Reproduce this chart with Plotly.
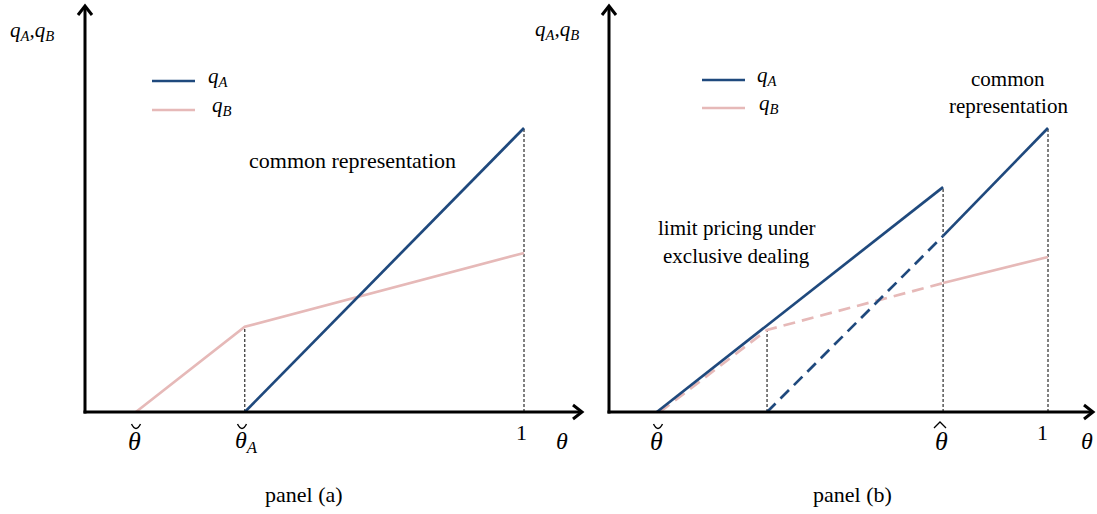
import plotly.graph_objects as go

# ---------------- data ----------------
# panel (a): common representation
theta_breve_a = 0.116
theta_breve_A = 0.364
qA_a_x = [0.364, 1.0]
qA_a_y = [0.0, 1.0]
qB_a_x = [0.116, 0.364, 1.0]
qB_a_y = [0.0, 0.30, 0.56]

# panel (b)
theta_breve_b = 0.109
theta_hat = 0.761
qA_excl_x = [0.109, 0.761]
qA_excl_y = [0.0, 0.792]
qA_comm_x = [0.761, 1.0]
qA_comm_y = [0.62, 1.0]
qA_dash_x = [0.36, 0.761]
qA_dash_y = [0.0, 0.62]
qB_dash_x = [0.116, 0.36, 0.761]
qB_dash_y = [0.0, 0.289, 0.454]
qB_solid_x = [0.761, 1.0]
qB_solid_y = [0.454, 0.546]

BLUE = "#1f497d"
PINK = "#e6b9b8"
FONT = "Liberation Serif"
W, H = 1097, 514

fig = go.Figure()

def line(x, y, color, dash="solid", xa="x", ya="y", width=2.7):
    fig.add_trace(go.Scatter(x=x, y=y, mode="lines", xaxis=xa, yaxis=ya,
                             line=dict(color=color, width=width, dash=dash),
                             showlegend=False, hoverinfo="skip"))

def vguide(xv, ytop, xa="x", ya="y"):
    line([xv, xv], [0, ytop], "black", dash="3px,2px", xa=xa, ya=ya, width=1)

# panel (a)
vguide(theta_breve_A, qB_a_y[1])
vguide(1.0, qA_a_y[1])
line(qB_a_x, qB_a_y, PINK)
line(qA_a_x, qA_a_y, BLUE)

# panel (b)
vguide(qB_dash_x[1], qB_dash_y[1], "x2", "y2")
vguide(theta_hat, qA_excl_y[1], "x2", "y2")
vguide(1.0, qA_comm_y[1], "x2", "y2")
line(qB_dash_x, qB_dash_y, PINK, "12px,7px", "x2", "y2")
line(qB_solid_x, qB_solid_y, PINK, "solid", "x2", "y2")
line(qA_dash_x, qA_dash_y, BLUE, "12px,7px", "x2", "y2")
line(qA_excl_x, qA_excl_y, BLUE, "solid", "x2", "y2")
line(qA_comm_x, qA_comm_y, BLUE, "solid", "x2", "y2")

# axes geometry (pixel mapping)
SX = 439.0  # px per theta unit
SY = 284.0  # px per q unit
y0px = 412.0
split = 600.0
ax_a0, ax_b0 = 85.0, 609.0
yr = [-(H - y0px) / SY, y0px / SY]
xr_a = [(0 - ax_a0) / SX, (split - ax_a0) / SX]
xr_b = [(split - ax_b0) / SX, (W - ax_b0) / SX]

hidden = dict(visible=False, showgrid=False, zeroline=False, fixedrange=True)
fig.update_layout(
    width=W, height=H, margin=dict(l=0, r=0, t=0, b=0),
    plot_bgcolor="white", paper_bgcolor="white",
    xaxis=dict(domain=[0, split / W], range=xr_a, anchor="y", **hidden),
    yaxis=dict(domain=[0, 1], range=yr, anchor="x", **hidden),
    xaxis2=dict(domain=[split / W, 1], range=xr_b, anchor="y2", **hidden),
    yaxis2=dict(domain=[0, 1], range=yr, anchor="x2", **hidden),
    showlegend=False,
)

shapes = []
AW = 3  # axis line width
def axis_arrows(xa, ya, x_tip_px, x0_px):
    top = (y0px - 6) / SY
    right = (x_tip_px - x0_px) / SX
    lc = dict(color="black", width=AW)
    shapes.append(dict(type="line", xref=xa, yref=ya, x0=0, x1=0, y0=-1.5 / SY, y1=top, line=lc))
    shapes.append(dict(type="line", xref=xa, yref=ya, x0=-1.5 / SX, x1=right, y0=0, y1=0, line=lc))
    dx, dy = 7.0, 9.0
    shapes.append(dict(type="path", xref=xa, yref=ya, line=lc,
                       path=f"M {-dx / SX} {top - dy / SY} L 0 {top} L {dx / SX} {top - dy / SY}"))
    shapes.append(dict(type="path", xref=xa, yref=ya, line=lc,
                       path=f"M {right - dy / SX} {dx / SY} L {right} 0 L {right - dy / SX} {-dx / SY}"))

axis_arrows("x", "y", 582, ax_a0)
axis_arrows("x2", "y2", 1093, ax_b0)

ann = []
def txt(px, py, s, size=22, anchor="center", family=FONT):
    ann.append(dict(xref="paper", yref="paper", x=px / W, y=1 - py / H, text=s,
                    showarrow=False, xanchor=anchor, yanchor="middle",
                    font=dict(family=family, size=size, color="black")))

def P(x, y):
    return f"{x / W:.5f} {1 - y / H:.5f}"

def breve(cx, ytop=424):
    shapes.append(dict(type="path", xref="paper", yref="paper",
                       line=dict(color="black", width=1.4),
                       path=f"M {P(cx - 4.5, ytop)} Q {P(cx, ytop + 9)} {P(cx + 4.5, ytop)}"))

def hat(cx, ytop=422):
    shapes.append(dict(type="path", xref="paper", yref="paper",
                       line=dict(color="black", width=1.3),
                       path=f"M {P(cx - 6, ytop + 6)} L {P(cx, ytop)} L {P(cx + 6, ytop + 6)}"))

qAqB = "<i>q<sub>A</sub>,q<sub>B</sub></i>"
txt(32, 31, qAqB, 21)
txt(557, 30, qAqB, 21)

txt(134, 441, "<i>θ</i>", 26)
breve(136)
txt(246, 442, "<i>θ<sub>A</sub></i>", 24)
breve(242)
txt(521, 432, "1", 22)
txt(562, 441, "<i>θ</i>", 24)
txt(656, 441, "<i>θ</i>", 26)
breve(658)
txt(941, 441, "<i>θ</i>", 26)
hat(940)
txt(1042, 432, "1", 22)
txt(1087, 441, "<i>θ</i>", 24)

txt(304, 494, "panel (a)", 22)
txt(852, 494, "panel (b)", 22)

txt(352, 160, "common representation", 22)
txt(1008, 79, "common", 21)
txt(1008, 106, "representation", 21)
txt(736, 228, "limit pricing under", 21)
txt(736, 256, "exclusive dealing", 21)

# legends (manual)
def leg(x0, x1, py, color, label, lx):
    shapes.append(dict(type="line", xref="paper", yref="paper", x0=x0 / W, x1=x1 / W,
                       y0=1 - py / H, y1=1 - py / H, line=dict(color=color, width=2.7)))
    txt(lx, py - 4, label, 21, anchor="left")

leg(152, 195, 81, BLUE, "<i>q<sub>A</sub></i>", 206)
leg(152, 195, 110, PINK, "<i>q<sub>B</sub></i>", 210)
leg(702, 745, 80, BLUE, "<i>q<sub>A</sub></i>", 755)
leg(702, 745, 108, PINK, "<i>q<sub>B</sub></i>", 757)

fig.update_layout(annotations=ann, shapes=shapes)
fig.write_html("out.html", config={"displayModeBar": False},
               post_script="document.body.style.margin='0';document.body.style.padding='0';")
